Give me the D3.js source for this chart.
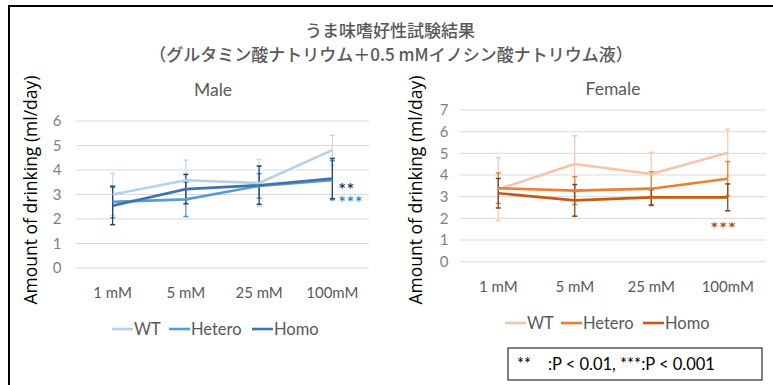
<!DOCTYPE html>
<html><head><meta charset="utf-8">
<script src="https://cdn.jsdelivr.net/npm/d3@7"></script>
<style>
html,body{margin:0;padding:0;background:#fff;}
svg{display:block;}
</style></head>
<body>
<svg id="chart" width="773" height="385"></svg>
<script>
// ---- data ----
const categories = ["1 mM", "5 mM", "25 mM", "100mM"];
const seriesNames = ["WT", "Hetero", "Homo"];
const maleTicks = [0, 1, 2, 3, 4, 5, 6];
const femaleTicks = [0, 1, 2, 3, 4, 5, 6, 7];

const maleWT = [3.00, 3.58, 3.47, 4.81];
const maleWTErr = [0.86, 0.82, 0.96, 0.61];
const maleHetero = [2.70, 2.80, 3.35, 3.58];
const maleHeteroErr = [0.65, 0.70, 0.50, 0.80];
const maleHomo = [2.54, 3.22, 3.38, 3.65];
const maleHomoErr = [0.77, 0.60, 0.78, 0.82];

const femaleWT = [3.34, 4.51, 4.05, 5.03];
const femaleWTErr = [1.45, 1.30, 1.00, 1.08];
const femaleHetero = [3.39, 3.28, 3.37, 3.83];
const femaleHeteroErr = [0.70, 0.64, 0.78, 0.79];
const femaleHomo = [3.16, 2.83, 2.97, 2.97];
const femaleHomoErr = [0.68, 0.73, 0.35, 0.62];

const titleLines = ["うま味嗜好性試験結果", "（グルタミン酸ナトリウム＋0.5 mMイノシン酸ナトリウム液）"];
const yTitle = "Amount of drinking (ml/day)";
const noteText = "**    :P < 0.01, ***:P < 0.001";

// ---- drawing ----
const svg = d3.select("#chart");
const gray = "#595959";
const latin = "Lato, 'Liberation Sans', sans-serif";

// frame
svg.append("rect").attr("x", 9).attr("y", 6).attr("width", 800).attr("height", 400)
  .attr("fill", "none").attr("stroke", "#000").attr("stroke-width", 2);

// title
svg.append("text").attr("x", 390).attr("y", 37).attr("text-anchor", "middle")
  .attr("font-family", "'Noto Sans CJK JP', sans-serif").attr("font-size", 17)
  .attr("font-weight", 500).attr("fill", gray).text(titleLines[0]);
svg.append("text").attr("x", 391).attr("y", 61).attr("text-anchor", "middle")
  .attr("font-family", "'Noto Sans CJK JP', sans-serif").attr("font-size", 17)
  .attr("font-weight", 500).attr("fill", gray).text(titleLines[1]);

function panel(cfg) {
  const g = svg.append("g");
  const x = d3.scaleBand().domain(categories).range(cfg.xr);
  const y = d3.scaleLinear().domain([0, d3.max(cfg.ticks)]).range(cfg.yr);

  // gridlines
  g.selectAll(".grid").data(cfg.ticks).join("line")
    .attr("x1", cfg.xr[0]).attr("x2", cfg.xr[1])
    .attr("y1", d => y(d)).attr("y2", d => y(d))
    .attr("stroke", "#D9D9D9").attr("stroke-width", 1);

  // y tick labels
  const yAxis = d3.axisLeft(y).tickValues(cfg.ticks).tickFormat(d3.format("d")).tickSize(0).tickPadding(0);
  const ya = g.append("g").attr("transform", `translate(${cfg.yLabelX},0)`).call(yAxis);
  ya.select(".domain").remove();
  ya.selectAll("text").attr("font-family", latin).attr("font-size", 15).attr("fill", "#7f7f7f")
    .attr("text-anchor", "middle");

  // x tick labels
  const xAxis = d3.axisBottom(x).tickSize(0).tickPadding(0);
  const xa = g.append("g").attr("transform", `translate(0,${cfg.xLabelY})`).call(xAxis);
  xa.select(".domain").remove();
  xa.selectAll("text").attr("font-family", latin).attr("font-size", 15).attr("fill", gray);

  // y title
  g.append("text").attr("transform", `translate(${cfg.yTitleX},${cfg.yTitleY}) rotate(-90)`)
    .attr("text-anchor", "middle").attr("font-family", "'Open Sans', sans-serif")
    .attr("font-size", 17.5).attr("fill", "#000").text(yTitle);

  // panel title
  g.append("text").attr("x", cfg.titleX).attr("y", cfg.titleY).attr("text-anchor", "middle")
    .attr("font-family", latin).attr("font-size", 17.5).attr("fill", gray).text(cfg.title);

  const cx = c => x(c) + x.bandwidth() / 2;
  const line = d3.line().x((d, i) => cx(categories[i])).y(d => y(d));

  cfg.series.forEach(s => {
    const eb = g.append("g");
    s.values.forEach((v, i) => {
      const xc = cx(categories[i]);
      const lo = y(v - s.err[i]), hi = y(v + s.err[i]);
      eb.append("line").attr("x1", xc).attr("x2", xc).attr("y1", lo).attr("y2", hi)
        .attr("stroke", s.errColor).attr("stroke-width", 1.2);
      [lo, hi].forEach(yy => eb.append("line").attr("x1", xc - 2.5).attr("x2", xc + 2.5)
        .attr("y1", yy).attr("y2", yy).attr("stroke", s.errColor).attr("stroke-width", 1.5));
    });
  });
  cfg.series.forEach(s => {
    g.append("path").datum(s.values).attr("d", line).attr("fill", "none")
      .attr("stroke", s.color).attr("stroke-width", 2.6).attr("stroke-linejoin", "round");
  });

  // legend
  cfg.series.forEach((s, i) => {
    const lx = cfg.legendX[i];
    g.append("line").attr("x1", lx).attr("x2", lx + 21).attr("y1", cfg.legendY).attr("y2", cfg.legendY)
      .attr("stroke", s.color).attr("stroke-width", 2.6);
    g.append("text").attr("x", lx + 22).attr("y", cfg.legendY + 6).attr("font-family", latin)
      .attr("font-size", 16.5).attr("fill", gray).text(seriesNames[i]);
  });

  // significance marks
  cfg.marks.forEach(m => {
    g.append("text").attr("x", m.x).attr("y", m.y).attr("font-family", "'DejaVu Sans', sans-serif")
      .attr("font-size", m.size).attr("font-weight", 700).attr("fill", m.color)
      .attr("letter-spacing", 2).text(m.text);
  });
}

panel({
  title: "Male", titleX: 213, titleY: 96,
  xr: [76, 369], yr: [268, 121], ticks: maleTicks,
  yLabelX: 57, xLabelY: 287, yTitleX: 37, yTitleY: 190,
  legendX: [112, 169, 252], legendY: 329,
  series: [
    {values: maleWT, err: maleWTErr, color: "#B8CFEA", errColor: "#C5D9EF"},
    {values: maleHetero, err: maleHeteroErr, color: "#5B9BD5", errColor: "#4F91CF"},
    {values: maleHomo, err: maleHomoErr, color: "#4272AE", errColor: "#1F3F6E"}
  ],
  marks: [
    {text: "**", x: 339, y: 192, size: 12, color: "#1F3864"},
    {text: "***", x: 339, y: 205, size: 12, color: "#2E86D6"}
  ]
});

panel({
  title: "Female", titleX: 613, titleY: 95,
  xr: [460, 766], yr: [261.7, 110], ticks: femaleTicks,
  yLabelX: 444, xLabelY: 281, yTitleX: 422, yTitleY: 190,
  legendX: [505, 561, 643], legendY: 323,
  series: [
    {values: femaleWT, err: femaleWTErr, color: "#F8C3A8", errColor: "#F6C6AE"},
    {values: femaleHetero, err: femaleHeteroErr, color: "#ED7D31", errColor: "#ED7D31"},
    {values: femaleHomo, err: femaleHomoErr, color: "#C55A11", errColor: "#7F3F16"}
  ],
  marks: [
    {text: "***", x: 711, y: 231, size: 13, color: "#A0521D"}
  ]
});

// note box
svg.append("rect").attr("x", 508).attr("y", 348).attr("width", 254).attr("height", 32)
  .attr("fill", "#fff").attr("stroke", "#000").attr("stroke-width", 1);
svg.append("text").attr("x", 517).attr("y", 370).attr("font-family", latin)
  .attr("font-size", 16.5).attr("fill", "#000").attr("xml:space", "preserve")
  .style("white-space", "pre").text(noteText);
</script>
</body></html>
